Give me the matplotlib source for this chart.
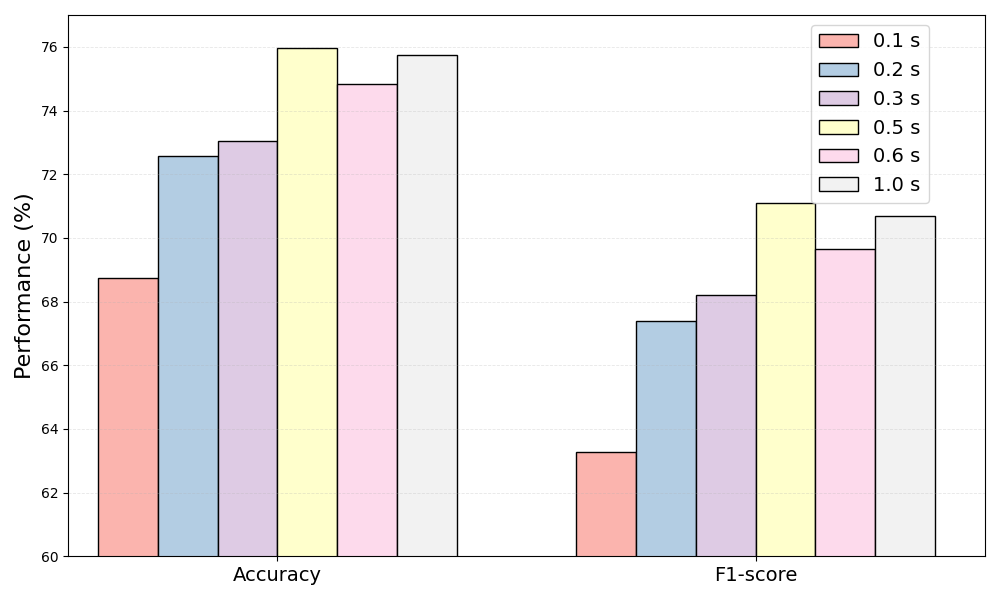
import matplotlib
matplotlib.use("Agg")
import matplotlib.pyplot as plt
import numpy as np

categories = ["Accuracy", "F1-score"]
series_labels = ["0.1 s", "0.2 s", "0.3 s", "0.5 s", "0.6 s", "1.0 s"]
accuracy = [68.74, 72.57, 73.05, 75.97, 74.84, 75.75]
f1_score = [63.27, 67.39, 68.20, 71.10, 69.65, 70.69]
colors = ["#fbb4ae", "#b3cde3", "#decbe4", "#ffffcc", "#fddaec", "#f2f2f2"]

fig, ax = plt.subplots(figsize=(10, 6), dpi=100)
x = np.arange(len(categories))
w = 0.125
for i, lab in enumerate(series_labels):
    vals = [accuracy[i], f1_score[i]]
    ax.bar(x + (i - 2.5) * w, vals, w, color=colors[i], edgecolor="black",
           linewidth=1, label=lab)

ax.set_xticks(x)
ax.set_xticklabels(categories, fontsize=14)
ax.set_ylabel("Performance (%)", fontsize=16)
ax.set_ylim(60, 77)
ax.set_xlim(-0.4377, 1.4796)
ax.grid(axis="y", linestyle="--", alpha=0.3, linewidth=0.6)
ax.legend(fontsize=14, loc="upper right", bbox_to_anchor=(0.949, 1.0))
fig.tight_layout()
fig.savefig("out.png")
